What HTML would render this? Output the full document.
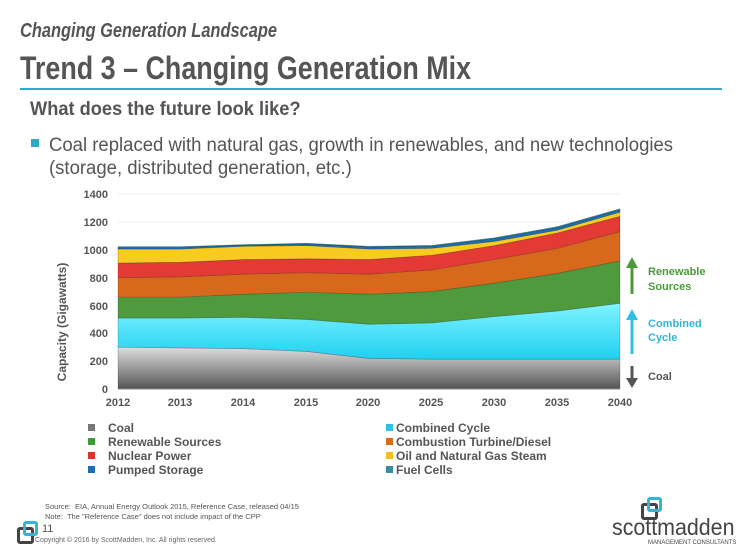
<!DOCTYPE html>
<html><head><meta charset="utf-8"><style>
body{margin:0;width:740px;height:555px;background:#fff;font-family:"Liberation Sans",Arial,sans-serif;position:relative;overflow:hidden}
.a{position:absolute;white-space:nowrap}
</style></head><body>
<div class="a" style="left:20px;top:20px;font-size:20px;font-style:italic;font-weight:bold;color:#555;transform:scaleX(0.82);transform-origin:0 0">Changing Generation Landscape</div>
<div class="a" style="left:20px;top:50px;font-size:32px;font-weight:bold;color:#555;transform:scaleX(0.84);transform-origin:0 0">Trend 3 – Changing Generation Mix</div>
<div class="a" style="left:20px;top:88px;width:702px;height:2px;background:#31a9c7"></div>
<div class="a" style="left:30px;top:99px;font-size:19px;font-weight:bold;color:#555;transform:scaleX(0.96);transform-origin:0 0">What does the future look like?</div>
<div class="a" style="left:31px;top:139px;width:8px;height:8px;background:#31a9c7"></div>
<div class="a" style="left:49px;top:134px;font-size:19px;color:#555;line-height:23px;transform:scaleX(0.975);transform-origin:0 0">Coal replaced with natural gas, growth in renewables, and new technologies<br>(storage, distributed generation, etc.)</div>
<svg class="a" style="left:0;top:180px" width="740" height="300" viewBox="0 180 740 300">
<defs>
<linearGradient id="g" x1="0" y1="0" x2="0" y2="1"><stop offset="0" stop-color="#ddd"/><stop offset="1" stop-color="#555"/></linearGradient>
<linearGradient id="c" x1="0" y1="0" x2="0" y2="1"><stop offset="0" stop-color="#7ff3ff"/><stop offset="1" stop-color="#20d0f0"/></linearGradient>
</defs>
<g font-size="11" font-weight="bold" fill="#555" text-anchor="end">
<text x="108" y="198">1400</text><text x="108" y="226">1200</text><text x="108" y="254">1000</text><text x="108" y="282">800</text><text x="108" y="310">600</text><text x="108" y="337">400</text><text x="108" y="365">200</text><text x="108" y="393">0</text>
</g>
<g stroke="#eee"><line x1="118" y1="194" x2="620" y2="194"/><line x1="118" y1="222" x2="620" y2="222"/><line x1="118" y1="250" x2="620" y2="250"/></g>
<g id="ar"></g>
<line x1="118" y1="389" x2="620" y2="389" stroke="#888"/>
<g font-size="11" font-weight="bold" fill="#555" text-anchor="middle">
<text x="118" y="406">2012</text><text x="180" y="406">2013</text><text x="243" y="406">2014</text><text x="306" y="406">2015</text><text x="368" y="406">2020</text><text x="431" y="406">2025</text><text x="494" y="406">2030</text><text x="557" y="406">2035</text><text x="620" y="406">2040</text>
</g>
<text transform="translate(66,322) rotate(-90)" font-size="12" font-weight="bold" fill="#555" text-anchor="middle">Capacity (Gigawatts)</text>
<line x1="632" y1="294" x2="632" y2="266" stroke="#4a9a3a" stroke-width="3"/><polygon points="626,268 638,268 632,257" fill="#4a9a3a"/>
<line x1="632" y1="354" x2="632" y2="318" stroke="#31c0e0" stroke-width="3"/><polygon points="626,320 638,320 632,309" fill="#31c0e0"/>
<line x1="632" y1="366" x2="632" y2="380" stroke="#555" stroke-width="3"/><polygon points="626,378 638,378 632,388" fill="#555"/>
<g font-size="11" font-weight="bold"><text x="648" y="275" fill="#4a9a3a">Renewable</text><text x="648" y="290" fill="#4a9a3a">Sources</text><text x="648" y="327" fill="#31b5d5">Combined</text><text x="648" y="341" fill="#31b5d5">Cycle</text><text x="648" y="380" fill="#555">Coal</text></g>
<g font-size="12" font-weight="bold" fill="#555">
<rect x="88" y="424" width="7" height="7" fill="#777"/><text x="108" y="432">Coal</text>
<rect x="88" y="438" width="7" height="7" fill="#3f9a3a"/><text x="108" y="446">Renewable Sources</text>
<rect x="88" y="452" width="7" height="7" fill="#e03030"/><text x="108" y="460">Nuclear Power</text>
<rect x="88" y="466" width="7" height="7" fill="#1a6fb5"/><text x="108" y="474">Pumped Storage</text>
<rect x="386" y="424" width="7" height="7" fill="#31c0e0"/><text x="396" y="432">Combined Cycle</text>
<rect x="386" y="438" width="7" height="7" fill="#d96a1a"/><text x="396" y="446">Combustion Turbine/Diesel</text>
<rect x="386" y="452" width="7" height="7" fill="#f0c020"/><text x="396" y="460">Oil and Natural Gas Steam</text>
<rect x="386" y="466" width="7" height="7" fill="#3a8aa0"/><text x="396" y="474">Fuel Cells</text>
</g>
</svg>
<div class="a" style="left:45px;top:502px;font-size:7.5px;color:#555;line-height:10px">Source:&nbsp; EIA, Annual Energy Outlook 2015, Reference Case, released 04/15<br>Note:&nbsp; The "Reference Case" does not include impact of the CPP</div>
<div class="a" style="left:42px;top:523px;font-size:11px;color:#555">11</div>
<div class="a" style="left:35px;top:537px;font-size:7px;color:#666">Copyright © 2016 by ScottMadden, Inc. All rights reserved.</div>
<div class="a" style="left:17px;top:527px;width:11px;height:11px;border:3px solid #444;border-radius:3px"></div>
<div class="a" style="left:23px;top:521px;width:9px;height:9px;border:3px solid #31b5d5;border-radius:3px"></div>
<div class="a" style="left:641px;top:503px;width:11px;height:11px;border:3px solid #444;border-radius:3px"></div>
<div class="a" style="left:647px;top:497px;width:9px;height:9px;border:3px solid #31b5d5;border-radius:3px"></div>
<div class="a" style="left:612px;top:514px;font-size:23px;color:#444;transform:scaleX(0.93);transform-origin:0 0">scottmadden</div>
<div class="a" style="left:648px;top:540px;font-size:6px;color:#444">MANAGEMENT CONSULTANTS</div>
<script>
var xs=[118,180.75,243.5,306.25,369,431.75,494.5,557.25,620];
var L=[[300,295,290,270,220,215,215,215,215],[510,510,515,500,465,475,520,560,615],[660,660,680,695,680,700,760,830,920],[800,805,825,835,825,855,930,1010,1130],[905,910,930,935,930,960,1030,1120,1240],[1005,1005,1025,1030,1005,1010,1060,1140,1270],[1018,1018,1032,1042,1020,1026,1080,1160,1288],[1022,1022,1037,1047,1025,1031,1086,1166,1294]];
var cols=["url(#g)","url(#c)","#4e9a3c","#d8691c","#e43a36","#f7cb22","#1a6fb5","#2a90b0"];
var y=v=>389-v*195/1400,s="",prev=[0,0,0,0,0,0,0,0,0];
L.forEach((t,i)=>{var p=xs.map((x,j)=>x+","+y(t[j])).join(" ")+" "+xs.slice().reverse().map((x,j)=>x+","+y(prev[8-j])).join(" ");s+='<polygon points="'+p+'" fill="'+cols[i]+'" stroke="rgba(0,0,0,0.25)" stroke-width="0.7"/>';prev=t;});
document.getElementById("ar").innerHTML=s;
</script>
</body></html>
